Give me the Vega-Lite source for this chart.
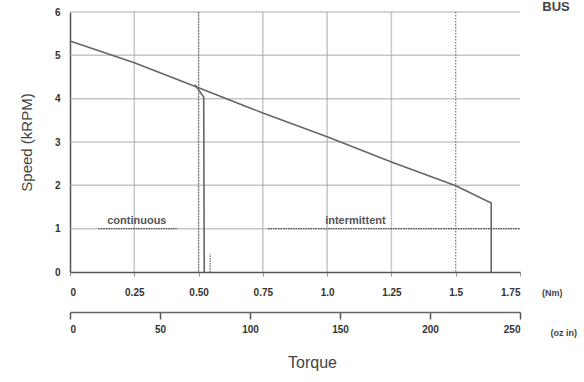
{
  "$schema": "https://vega.github.io/schema/vega-lite/v6.json",
  "width": 450,
  "height": 260,
  "autosize": "none",
  "padding": {"left": 70, "top": 12, "right": 64, "bottom": 110},
  "background": "white",
  "config": {"view": {"stroke": null}, "font": "Liberation Sans"},
  "datasets": {
    "curves": [
      {"series": "intermittent", "i": 0, "torque": 0, "speed": 5.33},
      {"series": "intermittent", "i": 1, "torque": 0.25, "speed": 4.83},
      {"series": "intermittent", "i": 2, "torque": 0.5, "speed": 4.25},
      {"series": "intermittent", "i": 3, "torque": 0.75, "speed": 3.67},
      {"series": "intermittent", "i": 4, "torque": 1.0, "speed": 3.12},
      {"series": "intermittent", "i": 5, "torque": 1.25, "speed": 2.54},
      {"series": "intermittent", "i": 6, "torque": 1.5, "speed": 1.99},
      {"series": "intermittent", "i": 7, "torque": 1.638, "speed": 1.59},
      {"series": "intermittent", "i": 8, "torque": 1.638, "speed": 0},
      {"series": "continuous", "i": 0, "torque": 0.486, "speed": 4.32},
      {"series": "continuous", "i": 1, "torque": 0.52, "speed": 4.04},
      {"series": "continuous", "i": 2, "torque": 0.522, "speed": 0}
    ],
    "stub": [
      {"torque": 0.545, "speed": 0, "speed2": 0.42}
    ],
    "lines": [
      {"torque": 0.25, "kind": "grid"}, {"torque": 0.5, "kind": "dotted"}, {"torque": 0.5, "kind": "grid"}, {"torque": 0.75, "kind": "grid"},
      {"torque": 1.0, "kind": "grid"}, {"torque": 1.25, "kind": "grid"}, {"torque": 1.5, "kind": "dotted"}
    ],
    "hlines": [{"speed": 1}, {"speed": 2}, {"speed": 3}, {"speed": 4}, {"speed": 5}, {"speed": 6}],
    "limits": [
      {"label": "continuous", "x1": 0.11, "x2": 0.415, "y": 1, "tx": 0.26},
      {"label": "intermittent", "x1": 0.77, "x2": 1.75, "y": 1, "tx": 1.11}
    ],
    "notes": [
      {"text": "(Nm)", "kind": "unit", "torque": 1.875, "speed": -0.48},
      {"text": "(oz in)", "kind": "unit", "torque": 1.92, "speed": -1.41},
      {"text": "BUS", "kind": "tag", "torque": 1.89, "speed": 6.02}
    ],
    "oz": [{"ozin": 0}, {"ozin": 250}]
  },
  "layer": [
    {
      "layer": [
        {
          "data": {"name": "hlines"},
          "mark": {"type": "rule", "color": "#a0a0a0", "strokeWidth": 1.5, "opacity": 0.6},
          "encoding": {
            "y": {
              "field": "speed",
              "type": "quantitative",
              "scale": {"domain": [0, 6], "nice": false},
              "axis": {
                "values": [0, 1, 2, 3, 4, 5, 6],
                "title": "Speed (kRPM)",
                "titleFont": "Liberation Sans",
                "titleFontSize": 15,
                "titleFontWeight": "normal",
                "titleColor": "#444",
                "titlePadding": 20,
                "grid": false,
                "domainColor": "#555",
                "domainWidth": 1.5,
                "tickSize": 0,
                "labelPadding": 10,
                "labelFont": "Liberation Sans",
                "labelFontSize": 10,
                "labelFontWeight": "bold",
                "labelColor": "#333"
              }
            }
          }
        },
        {
          "data": {"name": "lines"},
          "transform": [{"filter": "datum.kind == 'grid'"}],
          "mark": {"type": "rule", "color": "#a0a0a0", "strokeWidth": 1.5, "opacity": 0.6},
          "encoding": {
            "x": {
              "field": "torque",
              "type": "quantitative",
              "scale": {"domain": [0, 1.75], "nice": false, "zero": false},
              "axis": {
                "values": [0, 0.25, 0.5, 0.75, 1, 1.25, 1.5, 1.75],
                "labelExpr": "datum.value == 0 ? '0' : datum.value == 0.5 ? '0.50' : datum.value == 1 ? '1.0' : datum.value == 1.5 ? '1.5' : format(datum.value, '.2f')",
                "title": null,
                "grid": false,
                "domainColor": "#555",
                "domainWidth": 1.5,
                "tickColor": "#999",
                "tickSize": 4,
                "labelPadding": 11,
                "labelFont": "Liberation Sans",
                "labelFontSize": 10,
                "labelFontWeight": "bold",
                "labelColor": "#333"
              }
            }
          }
        },
        {
          "data": {"name": "lines"},
          "transform": [{"filter": "datum.kind == 'dotted'"}],
          "mark": {"type": "rule", "color": "#777", "strokeWidth": 1.2, "strokeDash": [1.5, 1.5]},
          "encoding": {
            "x": {"field": "torque", "type": "quantitative"}
          }
        },
        {
          "data": {"name": "curves"},
          "mark": {"type": "line", "color": "#666", "strokeWidth": 1.6},
          "encoding": {
            "x": {"field": "torque", "type": "quantitative"},
            "y": {"field": "speed", "type": "quantitative"},
            "detail": {"field": "series"},
            "order": {"field": "i", "type": "quantitative"}
          }
        },
        {
          "data": {"name": "stub"},
          "mark": {"type": "rule", "color": "#666", "strokeWidth": 1.2, "strokeDash": [1.5, 1]},
          "encoding": {
            "x": {"field": "torque", "type": "quantitative"},
            "y": {"field": "speed", "type": "quantitative"},
            "y2": {"field": "speed2"}
          }
        },
        {
          "data": {"name": "limits"},
          "mark": {"type": "rule", "color": "#555", "strokeWidth": 1.3, "strokeDash": [1.5, 1]},
          "encoding": {
            "x": {"field": "x1", "type": "quantitative"},
            "x2": {"field": "x2"},
            "y": {"field": "y", "type": "quantitative"}
          }
        },
        {
          "data": {"name": "limits"},
          "mark": {"type": "text", "baseline": "bottom", "dy": -3, "font": "Liberation Sans", "fontSize": 11, "fontWeight": "bold", "color": "#555"},
          "encoding": {
            "x": {"field": "tx", "type": "quantitative"},
            "y": {"field": "y", "type": "quantitative"},
            "text": {"field": "label"}
          }
        },
        {
          "data": {"name": "notes"},
          "transform": [{"filter": "datum.kind == 'unit'"}],
          "mark": {"type": "text", "baseline": "middle", "font": "Liberation Sans", "fontSize": 9, "fontWeight": "bold", "color": "#444"},
          "encoding": {
            "x": {"field": "torque", "type": "quantitative"},
            "y": {"field": "speed", "type": "quantitative"},
            "text": {"field": "text"}
          }
        },
        {
          "data": {"name": "notes"},
          "transform": [{"filter": "datum.kind == 'tag'"}],
          "mark": {"type": "text", "baseline": "alphabetic", "font": "Liberation Sans", "fontSize": 13, "fontWeight": "bold", "color": "#444"},
          "encoding": {
            "x": {"field": "torque", "type": "quantitative"},
            "y": {"field": "speed", "type": "quantitative"},
            "text": {"field": "text"}
          }
        }
      ]
    },
    {
      "data": {"name": "oz"},
      "mark": {"type": "point", "opacity": 0},
      "encoding": {
        "x": {
          "field": "ozin",
          "type": "quantitative",
          "scale": {"domain": [0, 250], "nice": false},
          "axis": {
            "orient": "bottom",
            "offset": 40,
            "values": [0, 50, 100, 150, 200, 250],
            "grid": false,
            "title": "Torque",
            "titleFont": "Liberation Sans",
            "titleFontSize": 16,
            "titleFontWeight": "normal",
            "titleColor": "#444",
            "titlePadding": 20,
            "titleX": 242,
            "domainColor": "#666",
            "domainWidth": 1.5,
            "tickColor": "#555",
            "tickWidth": 1.5,
            "tickSize": 7,
            "labelPadding": 5,
            "labelFont": "Liberation Sans",
            "labelFontSize": 10,
            "labelFontWeight": "bold",
            "labelColor": "#333"
          }
        }
      }
    }
  ],
  "resolve": {"scale": {"x": "independent"}}
}
